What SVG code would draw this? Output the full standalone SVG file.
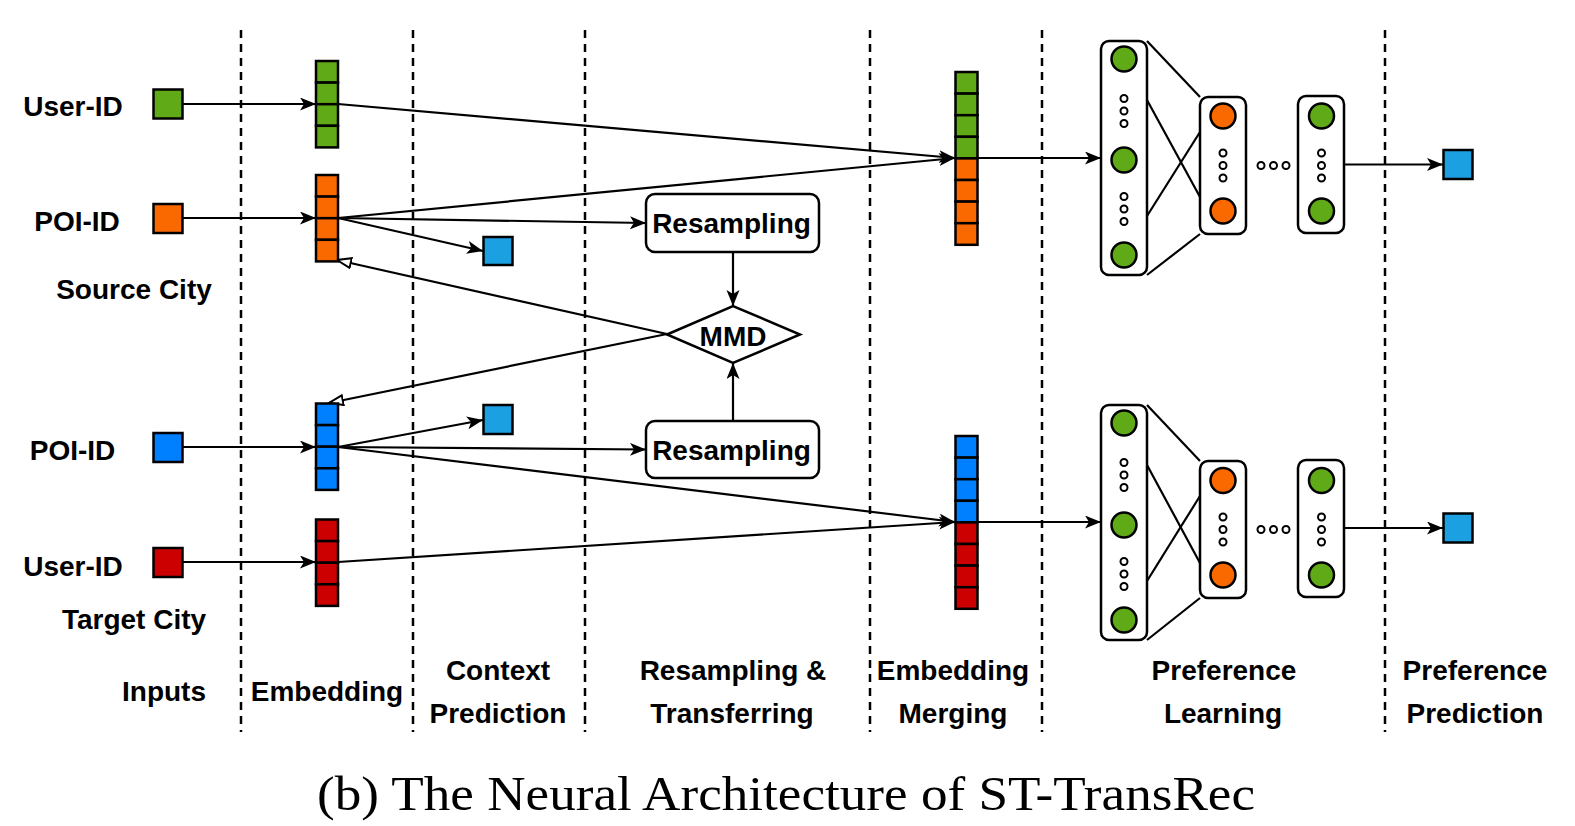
<svg xmlns="http://www.w3.org/2000/svg" width="1575" height="826" viewBox="0 0 1575 826">
<style>
.lbl{font-family:"Liberation Sans",Arial,sans-serif;font-weight:bold;font-size:28px;text-anchor:middle;fill:#000}
.cap{font-family:"Liberation Serif","Times New Roman",serif;font-size:49px;text-anchor:middle;fill:#000}
.div{stroke:#000;stroke-width:2.5;stroke-dasharray:8 6;fill:none}
.e{stroke:#000;stroke-width:2.2;fill:none}
.cell{stroke:#000;stroke-width:2.5}
.g{fill:#60A917}.o{fill:#FA6800}.b{fill:#007FFF}.r{fill:#CC0000}.lb{fill:#1BA1E2}
.sq{stroke:#000;stroke-width:2.5}
.box{fill:#fff;stroke:#000;stroke-width:2.5}
.nc{stroke:#000;stroke-width:2.5}
.dot{fill:#fff;stroke:#000;stroke-width:2}
</style>
<defs>
<marker id="arr" markerUnits="userSpaceOnUse" markerWidth="18" markerHeight="14" refX="16" refY="6.5" orient="auto">
<path d="M0,0 L16,6.5 L0,13 L4,6.5 Z" fill="#000"/>
</marker>
<marker id="open" markerUnits="userSpaceOnUse" markerWidth="18" markerHeight="14" refX="15" refY="6" orient="auto">
<path d="M1,1 L15,6 L1,11 Z" fill="#fff" stroke="#000" stroke-width="2"/>
</marker>
</defs>
<rect width="1575" height="826" fill="#fff"/>

<g id="dividers">
<line class="div" x1="241" y1="30" x2="241" y2="732"/>
<line class="div" x1="413" y1="30" x2="413" y2="732"/>
<line class="div" x1="585" y1="30" x2="585" y2="732"/>
<line class="div" x1="870" y1="30" x2="870" y2="732"/>
<line class="div" x1="1042" y1="30" x2="1042" y2="732"/>
<line class="div" x1="1385" y1="30" x2="1385" y2="732"/>
</g>

<g id="connectors">
<line class="e" x1="183" y1="104" x2="316" y2="104" marker-end="url(#arr)"/>
<line class="e" x1="183" y1="218" x2="316" y2="218" marker-end="url(#arr)"/>
<line class="e" x1="183" y1="447" x2="316" y2="447" marker-end="url(#arr)"/>
<line class="e" x1="183" y1="562" x2="316" y2="562" marker-end="url(#arr)"/>
<line class="e" x1="338" y1="104" x2="955" y2="158" marker-end="url(#arr)"/>
<line class="e" x1="338" y1="218" x2="955" y2="158" marker-end="url(#arr)"/>
<line class="e" x1="338" y1="218" x2="483" y2="251" marker-end="url(#arr)"/>
<line class="e" x1="338" y1="218" x2="646" y2="223" marker-end="url(#arr)"/>
<line class="e" x1="733" y1="252" x2="733" y2="306" marker-end="url(#arr)"/>
<line class="e" x1="733" y1="421" x2="733" y2="363" marker-end="url(#arr)"/>
<line class="e" x1="667" y1="334" x2="337" y2="260" marker-end="url(#open)"/>
<line class="e" x1="667" y1="334" x2="329" y2="403" marker-end="url(#open)"/>
<line class="e" x1="338" y1="447" x2="483" y2="420" marker-end="url(#arr)"/>
<line class="e" x1="338" y1="447" x2="646" y2="449.5" marker-end="url(#arr)"/>
<line class="e" x1="338" y1="447" x2="955" y2="522" marker-end="url(#arr)"/>
<line class="e" x1="338" y1="562" x2="955" y2="522" marker-end="url(#arr)"/>
<line class="e" x1="978" y1="158" x2="1101" y2="158" marker-end="url(#arr)"/>
<line class="e" x1="978" y1="522" x2="1101" y2="522" marker-end="url(#arr)"/>
<line class="e" x1="1344" y1="164.5" x2="1443" y2="164.5" marker-end="url(#arr)"/>
<line class="e" x1="1344" y1="528" x2="1443" y2="528" marker-end="url(#arr)"/>
<line class="e" x1="1147" y1="41" x2="1200" y2="97"/>
<line class="e" x1="1147" y1="100" x2="1200" y2="197"/>
<line class="e" x1="1147" y1="216" x2="1200" y2="132"/>
<line class="e" x1="1147" y1="275" x2="1200" y2="234"/>
<line class="e" x1="1147" y1="405" x2="1200" y2="461"/>
<line class="e" x1="1147" y1="465" x2="1200" y2="563"/>
<line class="e" x1="1147" y1="581" x2="1200" y2="496"/>
<line class="e" x1="1147" y1="640" x2="1200" y2="598"/>
</g>

<g id="input-user-src">
<rect class="sq g" x="153.5" y="89.5" width="29" height="29"/>
<text class="lbl" x="73" y="116">User-ID</text>
</g>
<g id="input-poi-src">
<rect class="sq o" x="153.5" y="204" width="29" height="29"/>
<text class="lbl" x="77" y="231">POI-ID</text>
</g>
<g id="label-source"><text class="lbl" x="134" y="299">Source City</text></g>
<g id="input-poi-tgt">
<rect class="sq b" x="153.5" y="433" width="29" height="29"/>
<text class="lbl" x="72.5" y="460">POI-ID</text>
</g>
<g id="input-user-tgt">
<rect class="sq r" x="153.5" y="548" width="29" height="29"/>
<text class="lbl" x="73" y="576">User-ID</text>
</g>
<g id="label-target"><text class="lbl" x="134" y="629">Target City</text></g>

<g id="emb-user-src">
<rect class="cell g" x="316" y="61" width="22" height="21.6"/>
<rect class="cell g" x="316" y="82.6" width="22" height="21.6"/>
<rect class="cell g" x="316" y="104.2" width="22" height="21.6"/>
<rect class="cell g" x="316" y="125.8" width="22" height="21.6"/>
</g>
<g id="emb-poi-src">
<rect class="cell o" x="316" y="175" width="22" height="21.6"/>
<rect class="cell o" x="316" y="196.6" width="22" height="21.6"/>
<rect class="cell o" x="316" y="218.2" width="22" height="21.6"/>
<rect class="cell o" x="316" y="239.8" width="22" height="21.6"/>
</g>
<g id="emb-poi-tgt">
<rect class="cell b" x="316" y="403.5" width="22" height="21.6"/>
<rect class="cell b" x="316" y="425.1" width="22" height="21.6"/>
<rect class="cell b" x="316" y="446.7" width="22" height="21.6"/>
<rect class="cell b" x="316" y="468.3" width="22" height="21.6"/>
</g>
<g id="emb-user-tgt">
<rect class="cell r" x="316" y="519.5" width="22" height="21.6"/>
<rect class="cell r" x="316" y="541.1" width="22" height="21.6"/>
<rect class="cell r" x="316" y="562.7" width="22" height="21.6"/>
<rect class="cell r" x="316" y="584.3" width="22" height="21.6"/>
</g>

<g id="ctx-src"><rect class="sq lb" x="483.5" y="237" width="29" height="28"/></g>
<g id="ctx-tgt"><rect class="sq lb" x="483.5" y="405" width="29" height="29"/></g>

<g id="resample-src">
<rect class="box" x="646" y="194" width="173" height="58" rx="9"/>
<text class="lbl" x="731.5" y="233">Resampling</text>
</g>
<g id="resample-tgt">
<rect class="box" x="646" y="421" width="173" height="57" rx="9"/>
<text class="lbl" x="731.5" y="460">Resampling</text>
</g>
<g id="mmd">
<polygon class="box" points="667,334.5 733,306 800,334.5 733,363"/>
<text class="lbl" x="733" y="346">MMD</text>
</g>

<g id="merge-src">
<rect class="cell g" x="955.5" y="72" width="22" height="21.6"/>
<rect class="cell g" x="955.5" y="93.6" width="22" height="21.6"/>
<rect class="cell g" x="955.5" y="115.2" width="22" height="21.6"/>
<rect class="cell g" x="955.5" y="136.8" width="22" height="21.6"/>
<rect class="cell o" x="955.5" y="158.4" width="22" height="21.6"/>
<rect class="cell o" x="955.5" y="180" width="22" height="21.6"/>
<rect class="cell o" x="955.5" y="201.6" width="22" height="21.6"/>
<rect class="cell o" x="955.5" y="223.2" width="22" height="21.6"/>
</g>
<g id="merge-tgt">
<rect class="cell b" x="955.5" y="436" width="22" height="21.6"/>
<rect class="cell b" x="955.5" y="457.6" width="22" height="21.6"/>
<rect class="cell b" x="955.5" y="479.2" width="22" height="21.6"/>
<rect class="cell b" x="955.5" y="500.8" width="22" height="21.6"/>
<rect class="cell r" x="955.5" y="522.4" width="22" height="21.6"/>
<rect class="cell r" x="955.5" y="544" width="22" height="21.6"/>
<rect class="cell r" x="955.5" y="565.6" width="22" height="21.6"/>
<rect class="cell r" x="955.5" y="587.2" width="22" height="21.6"/>
</g>

<g id="mlp-src-layer1">
<rect class="box" x="1101" y="41" width="46" height="234" rx="8"/>
<circle class="nc g" cx="1124" cy="59" r="12.5"/>
<circle class="dot" cx="1124" cy="98.5" r="3.5"/><circle class="dot" cx="1124" cy="111" r="3.5"/><circle class="dot" cx="1124" cy="123.5" r="3.5"/>
<circle class="nc g" cx="1124" cy="160" r="12.5"/>
<circle class="dot" cx="1124" cy="196.5" r="3.5"/><circle class="dot" cx="1124" cy="209" r="3.5"/><circle class="dot" cx="1124" cy="221.5" r="3.5"/>
<circle class="nc g" cx="1124" cy="255" r="12.5"/>
</g>
<g id="mlp-src-layer2">
<rect class="box" x="1200" y="97" width="46" height="137" rx="8"/>
<circle class="nc o" cx="1223" cy="116" r="12.5"/>
<circle class="dot" cx="1223" cy="153" r="3.5"/><circle class="dot" cx="1223" cy="165.5" r="3.5"/><circle class="dot" cx="1223" cy="178" r="3.5"/>
<circle class="nc o" cx="1223" cy="211" r="12.5"/>
</g>
<g id="mlp-src-ellipsis">
<circle class="dot" cx="1261" cy="165.5" r="3.5"/><circle class="dot" cx="1273.5" cy="165.5" r="3.5"/><circle class="dot" cx="1286" cy="165.5" r="3.5"/>
</g>
<g id="mlp-src-layerN">
<rect class="box" x="1298" y="96" width="46" height="137" rx="8"/>
<circle class="nc g" cx="1321.5" cy="116" r="12.5"/>
<circle class="dot" cx="1321.5" cy="153" r="3.5"/><circle class="dot" cx="1321.5" cy="165.5" r="3.5"/><circle class="dot" cx="1321.5" cy="178" r="3.5"/>
<circle class="nc g" cx="1321.5" cy="211" r="12.5"/>
</g>
<g id="out-src"><rect class="sq lb" x="1443.5" y="150" width="29" height="29"/></g>

<g id="mlp-tgt-layer1">
<rect class="box" x="1101" y="405" width="46" height="235" rx="8"/>
<circle class="nc g" cx="1124" cy="423" r="12.5"/>
<circle class="dot" cx="1124" cy="462.5" r="3.5"/><circle class="dot" cx="1124" cy="475" r="3.5"/><circle class="dot" cx="1124" cy="487.5" r="3.5"/>
<circle class="nc g" cx="1124" cy="525" r="12.5"/>
<circle class="dot" cx="1124" cy="561.5" r="3.5"/><circle class="dot" cx="1124" cy="574" r="3.5"/><circle class="dot" cx="1124" cy="586.5" r="3.5"/>
<circle class="nc g" cx="1124" cy="620" r="12.5"/>
</g>
<g id="mlp-tgt-layer2">
<rect class="box" x="1200" y="461" width="46" height="137" rx="8"/>
<circle class="nc o" cx="1223" cy="480.5" r="12.5"/>
<circle class="dot" cx="1223" cy="517" r="3.5"/><circle class="dot" cx="1223" cy="529.5" r="3.5"/><circle class="dot" cx="1223" cy="542" r="3.5"/>
<circle class="nc o" cx="1223" cy="575" r="12.5"/>
</g>
<g id="mlp-tgt-ellipsis">
<circle class="dot" cx="1261" cy="529.5" r="3.5"/><circle class="dot" cx="1273.5" cy="529.5" r="3.5"/><circle class="dot" cx="1286" cy="529.5" r="3.5"/>
</g>
<g id="mlp-tgt-layerN">
<rect class="box" x="1298" y="460" width="46" height="137" rx="8"/>
<circle class="nc g" cx="1321.5" cy="480.5" r="12.5"/>
<circle class="dot" cx="1321.5" cy="517" r="3.5"/><circle class="dot" cx="1321.5" cy="529.5" r="3.5"/><circle class="dot" cx="1321.5" cy="542" r="3.5"/>
<circle class="nc g" cx="1321.5" cy="575" r="12.5"/>
</g>
<g id="out-tgt"><rect class="sq lb" x="1443.5" y="513.5" width="29" height="29"/></g>

<g id="stage-labels">
<text class="lbl" x="164" y="701">Inputs</text>
<text class="lbl" x="327" y="701">Embedding</text>
<text class="lbl" x="498" y="680">Context</text>
<text class="lbl" x="498" y="723">Prediction</text>
<text class="lbl" x="733" y="680">Resampling &amp;</text>
<text class="lbl" x="732" y="723">Transferring</text>
<text class="lbl" x="953" y="680">Embedding</text>
<text class="lbl" x="953" y="723">Merging</text>
<text class="lbl" x="1224" y="680">Preference</text>
<text class="lbl" x="1223" y="723">Learning</text>
<text class="lbl" x="1475" y="680">Preference</text>
<text class="lbl" x="1475" y="723">Prediction</text>
</g>

<g id="caption">
<text class="cap" x="786" y="810" textLength="938" lengthAdjust="spacingAndGlyphs">(b) The Neural Architecture of ST-TransRec</text>
</g>
</svg>
